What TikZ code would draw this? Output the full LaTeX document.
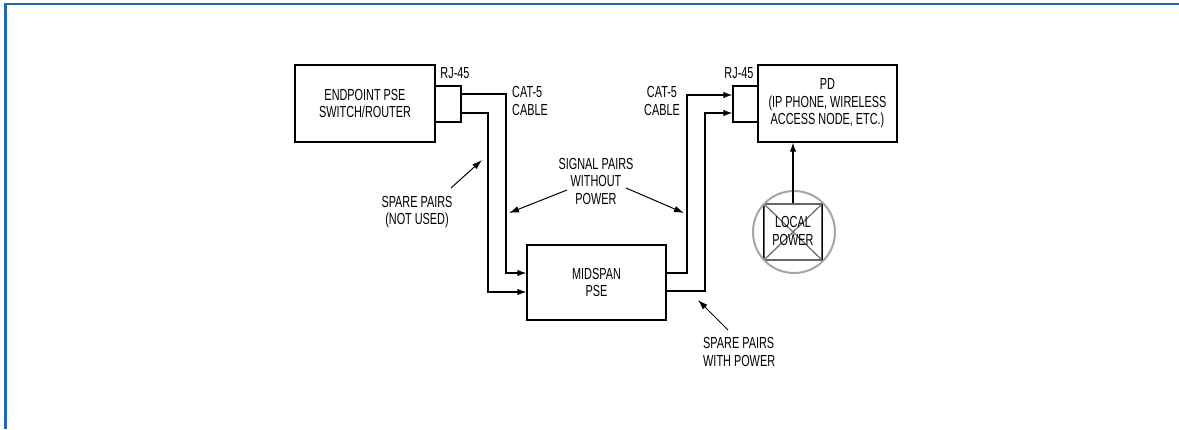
\documentclass[tikz,border=0pt]{standalone}
\usepackage{fontspec}
\setmainfont[FakeStretch=0.68]{Liberation Sans}
\usepackage{xcolor}
\usetikzlibrary{arrows.meta, calc}
\definecolor{framblue}{RGB}{31,104,180}
\tikzset{blk/.style={draw, line width=1.2pt, align=center, inner sep=0pt},
  lbl/.style={align=center, inner sep=0pt, font=\fontsize{16}{17.5}\selectfont},
  wire/.style={line width=1.2pt, -{Latex[length=9pt,width=6.5pt]}},
  ann/.style={line width=1pt, -{Latex[length=10pt,width=6.5pt]}}}

\begin{document}
\begin{tikzpicture}[x=1pt, y=-1pt, font=\fontsize{16}{17.5}\selectfont]
\useasboundingbox (0,0) rectangle (1179,429);
% frame
\draw[framblue, line width=2.5pt] (5.5,429) -- (5.5,4) -- (1179,4);

% Endpoint PSE with its jack
\node[blk, minimum width=140pt, minimum height=77pt] (epse) at (365,103.5) {ENDPOINT PSE\\SWITCH/ROUTER};
\node[blk, minimum width=26pt, minimum height=36pt] (jackL) at (448,104) {};
\node[lbl] (rjL) at (455,73) {RJ-45};
\node[lbl, align=left, anchor=west] (catL) at (512,101) {CAT-5\\CABLE};

% Midspan PSE
\node[blk, minimum width=139pt, minimum height=75pt] (mid) at (596.5,282.5) {MIDSPAN\\PSE};

% PD with its jack
\node[blk, minimum width=139pt, minimum height=77pt] (pd) at (827.5,103.5) {PD\\(IP PHONE, WIRELESS\\ACCESS NODE, ETC.)};
\node[blk, minimum width=25pt, minimum height=36pt] (jackR) at (745.5,104) {};
\node[lbl] (rjR) at (739,73) {RJ-45};
\node[lbl] (catR) at (662,101) {CAT-5\\CABLE};

% Local power
\node[draw=gray!80!black, line width=1.2pt, minimum width=58pt, minimum height=56pt, inner sep=0pt] (lp) at (793,232) {};
\draw[gray!80!black, line width=1.2pt] (lp.north west) -- (lp.south east) (lp.north east) -- (lp.south west);
\draw[line width=1.2pt] (lp.north west) -- (lp.south west) (lp.north east) -- (lp.south east);
\draw[gray!70, line width=2pt] (794,232) circle[radius=41pt];
\node[lbl] (lpt) at (793,231) {LOCAL\\POWER};
\draw[wire] (lp.north) -- (lp.north |- pd.south);

% Cable pairs
\draw[wire] ([yshift=10pt]jackL.east) -| (506,273) -- ([yshift=9.5pt]mid.west);
\draw[wire] ([yshift=-9pt]jackL.east) -| (488,292) -- ([yshift=-9.5pt]mid.west);
\draw[wire] ([yshift=9.5pt]mid.east) -| (687,95) -- ([yshift=9pt]jackR.west);
\draw[wire] ([yshift=-8.5pt]mid.east) -| (705,113) -- ([yshift=-9pt]jackR.west);

% Notes
\node[lbl] (spnu) at (417,212) {SPARE PAIRS\\(NOT USED)};
\node[lbl] (sgnp) at (596,181) {SIGNAL PAIRS\\WITHOUT\\POWER};
\node[lbl, align=left, anchor=west] (spwp) at (703,352) {SPARE PAIRS\\WITH POWER};
\coordinate (a1) at (451,188);
\coordinate (t1) at (482,160);
\coordinate (a2) at (567,190);
\coordinate (t2) at (509,213);
\coordinate (a3) at (626,188);
\coordinate (t3) at (684,213);
\coordinate (a4) at (728,330);
\coordinate (t4) at (698,300);
\draw[ann] (a1) -- (t1);
\draw[ann] (a2) -- (t2);
\draw[ann] (a3) -- (t3);
\draw[ann] (a4) -- (t4);
\end{tikzpicture}
\end{document}
